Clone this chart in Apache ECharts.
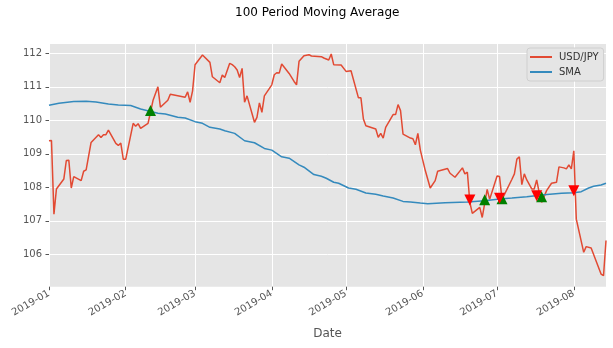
<!DOCTYPE html>
<html>
<head>
<meta charset="utf-8">
<script src="https://cdn.jsdelivr.net/npm/echarts@6/dist/echarts.min.js"></script>
<style>
html,body{margin:0;padding:0;background:#fff;}
#chart{width:613px;height:348px;}
</style>
</head>
<body>
<div id="chart"></div>
<script>
// ---- data ----
const priceDates = [
'2019-01-01','2019-01-02','2019-01-03','2019-01-04','2019-01-07','2019-01-08','2019-01-09','2019-01-10','2019-01-11',
'2019-01-14','2019-01-15','2019-01-16','2019-01-18','2019-01-21','2019-01-22','2019-01-23','2019-01-24','2019-01-25',
'2019-01-28','2019-01-29','2019-01-30','2019-01-31','2019-02-01','2019-02-04','2019-02-05','2019-02-06','2019-02-07',
'2019-02-10','2019-02-11','2019-02-12','2019-02-14','2019-02-15','2019-02-18','2019-02-19','2019-02-25','2019-02-26',
'2019-02-27','2019-02-28','2019-03-01','2019-03-04','2019-03-07','2019-03-08','2019-03-11','2019-03-12','2019-03-13',
'2019-03-15','2019-03-16','2019-03-17','2019-03-18','2019-03-19','2019-03-20','2019-03-21','2019-03-22','2019-03-25',
'2019-03-26','2019-03-27','2019-03-28','2019-03-29','2019-04-01','2019-04-02','2019-04-03','2019-04-04','2019-04-05',
'2019-04-08','2019-04-10','2019-04-11','2019-04-12','2019-04-14','2019-04-16','2019-04-17','2019-04-21','2019-04-22',
'2019-04-24','2019-04-25','2019-04-26','2019-04-29','2019-05-01','2019-05-03','2019-05-06','2019-05-07','2019-05-08',
'2019-05-09','2019-05-13','2019-05-14','2019-05-15','2019-05-16','2019-05-17','2019-05-20','2019-05-21','2019-05-22',
'2019-05-23','2019-05-24','2019-05-27','2019-05-28','2019-05-29','2019-05-30','2019-05-31','2019-06-02','2019-06-04',
'2019-06-06','2019-06-07','2019-06-11','2019-06-12','2019-06-14','2019-06-17','2019-06-18','2019-06-19','2019-06-20',
'2019-06-21','2019-06-24','2019-06-25','2019-06-27','2019-06-28','2019-07-01','2019-07-02','2019-07-03','2019-07-07',
'2019-07-08','2019-07-09','2019-07-10','2019-07-11','2019-07-12','2019-07-13','2019-07-15','2019-07-16','2019-07-17',
'2019-07-18','2019-07-19','2019-07-21','2019-07-23','2019-07-25','2019-07-26','2019-07-28','2019-07-29','2019-07-30',
'2019-07-31','2019-08-01','2019-08-02','2019-08-05','2019-08-06','2019-08-08','2019-08-12','2019-08-13','2019-08-14'
];
const priceValues = [
109.39,109.40,107.20,107.95,108.25,108.80,108.81,107.98,108.32,
108.20,108.48,108.52,109.34,109.57,109.49,109.57,109.57,109.71,
109.31,109.25,109.32,108.84,108.84,109.91,109.82,109.90,109.76,
109.91,110.24,110.59,111.00,110.39,110.60,110.78,110.69,110.85,
110.54,110.88,111.66,111.95,111.73,111.30,111.12,111.35,111.28,
111.70,111.66,111.60,111.50,111.28,111.55,110.54,110.73,109.94,
110.09,110.52,110.24,110.73,111.06,111.36,111.42,111.41,111.68,
111.40,111.16,111.06,111.76,111.93,111.96,111.92,111.90,111.86,
111.80,111.98,111.66,111.65,111.46,111.48,110.67,110.67,110.04,
109.84,109.74,109.49,109.61,109.47,109.79,110.17,110.17,110.47,
110.29,109.59,109.47,109.45,109.27,109.61,109.11,108.50,107.98,
108.20,108.48,108.56,108.42,108.30,108.58,108.40,108.45,107.55,
107.22,107.40,107.10,107.94,107.64,108.34,108.32,107.64,108.24,
108.40,108.84,108.91,108.08,108.40,108.22,107.95,107.95,108.22,
107.85,107.55,107.90,108.12,108.15,108.61,108.58,108.55,108.67,
108.55,109.09,107.05,106.06,106.23,106.19,105.41,105.36,106.41
];
const smaDates = [
'2019-01-01','2019-01-05','2019-01-11','2019-01-16','2019-01-20','2019-01-25','2019-01-29','2019-02-03','2019-02-07',
'2019-02-14','2019-02-17','2019-02-22','2019-02-25','2019-03-01','2019-03-04','2019-03-07','2019-03-11','2019-03-13',
'2019-03-17','2019-03-21','2019-03-25','2019-03-29','2019-04-01','2019-04-05','2019-04-08','2019-04-12','2019-04-14',
'2019-04-18','2019-04-21','2019-04-23','2019-04-26','2019-04-28','2019-05-02','2019-05-05','2019-05-09','2019-05-13',
'2019-05-16','2019-05-20','2019-05-24','2019-05-27','2019-05-31','2019-06-03','2019-06-10','2019-06-19','2019-06-26',
'2019-07-02','2019-07-07','2019-07-13','2019-07-20','2019-07-27','2019-08-01','2019-08-04','2019-08-07','2019-08-09',
'2019-08-12','2019-08-14'
];
const smaValues = [
110.45,110.51,110.56,110.57,110.55,110.49,110.46,110.44,110.34,
110.21,110.19,110.09,110.07,109.96,109.91,109.79,109.74,109.69,
109.61,109.39,109.33,109.16,109.11,108.91,108.87,108.67,108.60,
108.38,108.33,108.27,108.15,108.12,107.98,107.94,107.83,107.79,
107.74,107.68,107.58,107.56,107.53,107.51,107.54,107.56,107.60,
107.65,107.68,107.72,107.78,107.82,107.84,107.87,107.98,108.03,
108.07,108.12
];
const buyDates = ['2019-02-11','2019-06-26','2019-07-03','2019-07-19'];
const buyValues = [110.29,107.63,107.66,107.72];
const sellDates = ['2019-06-20','2019-07-02','2019-07-17','2019-08-01'];
const sellValues = [107.62,107.67,107.75,107.90];
const xTickLabels = ['2019-01','2019-02','2019-03','2019-04','2019-05','2019-06','2019-07','2019-08'];
const yTicks = [106,107,108,109,110,111,112];
const seriesNames = ['USD/JPY','SMA'];

// ---- chart ----
const ts = s => { const p = s.split('-').map(Number); return new Date(p[0], p[1]-1, p[2] || 1).getTime(); };
const zip = (a,b)=>a.map((d,i)=>[ts(d),b[i]]);
const xTickValues = xTickLabels.map(ts);
const FONT = 'DejaVu Sans';
const fmtMonth = v => {
  let best = 0, bd = Infinity;
  xTickValues.forEach((t,i)=>{ const dd = Math.abs(t - v); if (dd < bd) { bd = dd; best = i; } });
  return xTickLabels[best];
};
const chart = echarts.init(document.getElementById('chart'), null, {renderer:'canvas'});
chart.setOption({
  animation:false,
  backgroundColor:'#ffffff',
  title:{text:'100 Period Moving Average', left:235, top:7, padding:[0,0,0,0],
    textStyle:{fontFamily:FONT,fontSize:12,fontWeight:'normal',color:'#000'}},
  legend:{
    data:seriesNames, orient:'vertical', left:527, top:48,
    icon:'rect', itemWidth:22, itemHeight:2, itemGap:3,
    padding:[3,5,3,3],
    backgroundColor:'#E5E5E5', borderColor:'#CFCFCF', borderWidth:1, borderRadius:3,
    textStyle:{fontFamily:FONT,fontSize:10,color:'#333',lineHeight:12,padding:[0,0,0,2]}
  },
  grid:{left:49,right:7,top:44,bottom:61.3,show:true,backgroundColor:'#E5E5E5',borderWidth:0,containLabel:false},
  xAxis:{
    type:'value', min:ts('2019-01-01'), max:ts('2019-08-14'),
    axisLine:{show:false},
    axisTick:{show:true,length:3.5,lineStyle:{color:'#555555'},customValues:xTickValues},
    axisLabel:{rotate:30,fontFamily:FONT,fontSize:10,color:'#555555',margin:6,customValues:xTickValues,
      hideOverlap:false,showMinLabel:true,showMaxLabel:true,
      formatter:function(v){return fmtMonth(v);}},
    splitLine:{show:true,lineStyle:{color:'#ffffff',width:1}},
    name:'Date', nameLocation:'middle', nameGap:41,
    nameTextStyle:{fontFamily:FONT,fontSize:12,color:'#555555'}
  },
  yAxis:{
    type:'value', min:105.033, max:112.278, splitNumber:7,
    axisLine:{show:false},
    axisTick:{show:true,length:3.5,lineStyle:{color:'#555555'},customValues:yTicks},
    axisLabel:{fontFamily:FONT,fontSize:10,color:'#555555',margin:7,customValues:yTicks},
    splitLine:{show:true,lineStyle:{color:'#ffffff',width:1}}
  },
  series:[
    {name:seriesNames[0],type:'line',data:zip(priceDates,priceValues),showSymbol:false,
      lineStyle:{color:'#E24A33',width:1.5},itemStyle:{color:'#E24A33'},z:2},
    {name:seriesNames[1],type:'line',data:zip(smaDates,smaValues),showSymbol:false,
      lineStyle:{color:'#348ABD',width:1.5},itemStyle:{color:'#348ABD'},z:3},
    {name:'buy',type:'scatter',data:zip(buyDates,buyValues),symbol:'triangle',symbolSize:11,
      itemStyle:{color:'#008000',opacity:1},z:5},
    {name:'sell',type:'scatter',data:zip(sellDates,sellValues),symbol:'triangle',symbolRotate:180,symbolSize:11,
      itemStyle:{color:'#FF0000',opacity:1},z:5}
  ]
});
</script>
</body>
</html>
